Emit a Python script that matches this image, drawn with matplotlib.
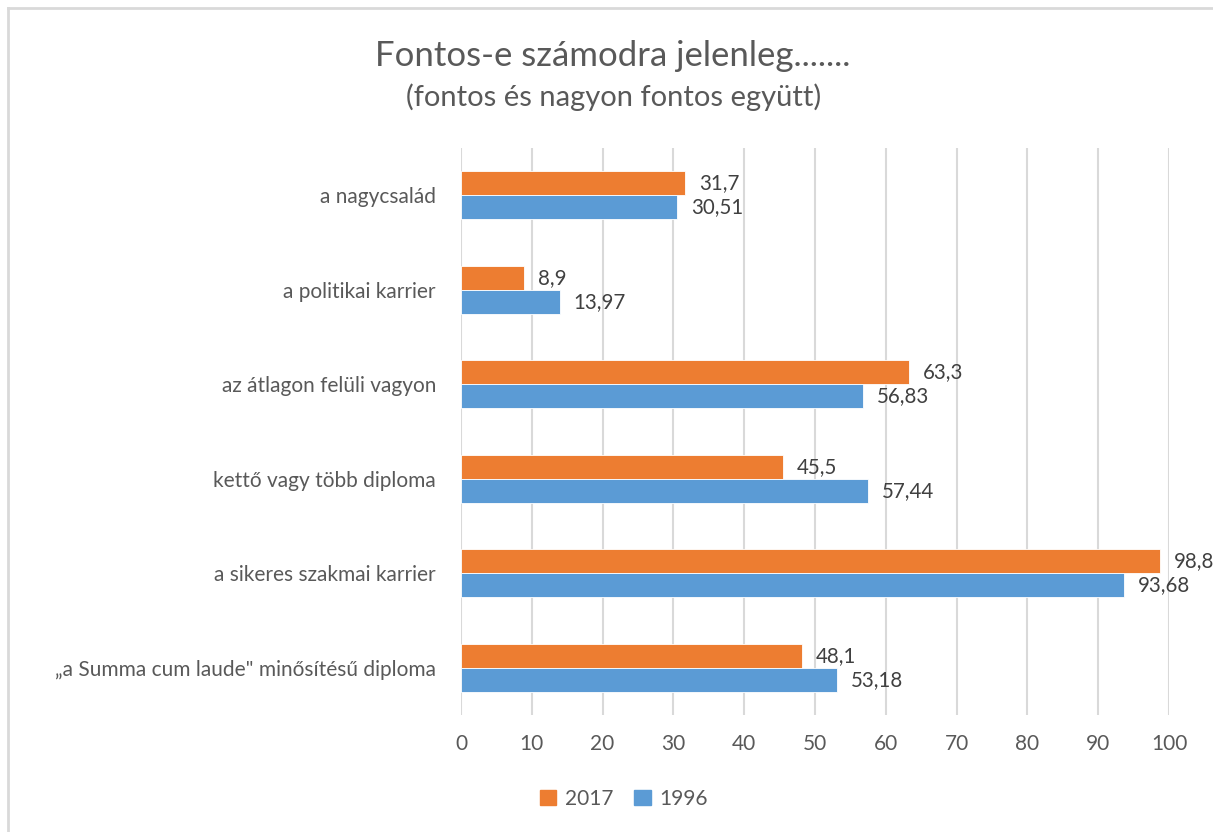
import matplotlib.pyplot as plt
import numpy as np
from matplotlib.lines import Line2D
from matplotlib.patches import Rectangle

categories = [
    "a nagycsalád",
    "a politikai karrier",
    "az átlagon felüli vagyon",
    "kettő vagy több diploma",
    "a sikeres szakmai karrier",
    "„a Summa cum laude\" minősítésű diploma",
]
values_2017 = [31.7, 8.9, 63.3, 45.5, 98.8, 48.1]
values_1996 = [30.51, 13.97, 56.83, 57.44, 93.68, 53.18]
labels_2017 = ["31,7", "8,9", "63,3", "45,5", "98,8", "48,1"]
labels_1996 = ["30,51", "13,97", "56,83", "57,44", "93,68", "53,18"]

orange = "#ED7D31"
blue = "#5B9BD5"
txt = "#595959"

plt.rcParams["font.family"] = ["Lato", "DejaVu Sans"]

fig = plt.figure(figsize=(12.13, 8.32), dpi=100)
ax = fig.add_axes([0.380, 0.1406, 0.5837, 0.6814])

# chart border: only top and left edges are visible in the picture
x0, y0 = 7.5 / 1213, 1 - 7.5 / 832
fig.lines.append(Line2D([x0, 1.0], [y0, y0], transform=fig.transFigure,
                        color="#d9d9d9", linewidth=2))
fig.lines.append(Line2D([x0, x0], [0.0, y0], transform=fig.transFigure,
                        color="#d9d9d9", linewidth=2))

n = len(categories)
y = np.arange(n)[::-1].astype(float)
h = 0.254

ax.barh(y + h / 2, values_2017, height=h, color=orange, edgecolor="white", linewidth=0.6, zorder=3)
ax.barh(y - h / 2, values_1996, height=h, color=blue, edgecolor="white", linewidth=0.6, zorder=3)

for yi, v, s in zip(y, values_2017, labels_2017):
    ax.annotate(s, (v, yi + h / 2), xytext=(10, 0), textcoords="offset points",
                va="center", ha="left", fontsize=14.8, color="#404040")
for yi, v, s in zip(y, values_1996, labels_1996):
    ax.annotate(s, (v, yi - h / 2), xytext=(10, 0), textcoords="offset points",
                va="center", ha="left", fontsize=14.8, color="#404040")

ax.set_xlim(0, 100)
ax.set_ylim(-0.5, n - 0.5)
ax.set_xticks(np.arange(0, 101, 10))
ax.set_yticks(y)
ax.set_yticklabels(categories)
ax.tick_params(axis="both", length=0, labelsize=15, labelcolor=txt)
ax.tick_params(axis="y", pad=18)
ax.tick_params(axis="x", pad=14)
ax.grid(axis="x", color="#d9d9d9", linewidth=1.5, zorder=0)
for sp in ax.spines.values():
    sp.set_visible(False)

fig.text(0.505, 0.933, "Fontos-e számodra jelenleg.......", ha="center", va="center",
         fontsize=25, color=txt)
fig.text(0.506, 0.883, "(fontos és nagyon fontos együtt)", ha="center", va="center",
         fontsize=21, color=txt)

handles = [Rectangle((0, 0), 1, 1, color=orange), Rectangle((0, 0), 1, 1, color=blue)]
fig.legend(handles, ["2017", "1996"], loc="center", bbox_to_anchor=(0.514, 0.04),
           ncol=2, frameon=False, fontsize=15, labelcolor=txt,
           handlelength=0.8, handleheight=0.8, handletextpad=0.4, columnspacing=1.0)

fig.savefig("out.png", dpi=100)
